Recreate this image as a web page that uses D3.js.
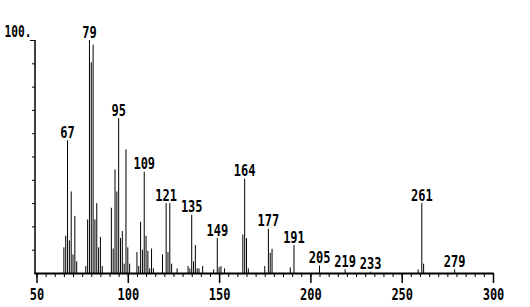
<!DOCTYPE html>
<html><head><meta charset="utf-8">
<script src="https://cdn.jsdelivr.net/npm/d3@7"></script>
<style>
html,body{margin:0;padding:0;background:#fff;}
svg{display:block;}
text{font-family:"DejaVu Sans Mono",monospace;font-weight:bold;fill:#000;}
</style></head>
<body><svg id="c" width="530" height="307"></svg>
<script>
const mz = [65,66,67,68,69,70,71,72,77,78,79,80,81,82,83,84,85,86,91,92,93,94,95,96,97,98,99,100,101,105,106,107,108,109,110,111,112,113,114,119,121,122,123,124,127,133,134,135,136,137,138,139,141,147,149,150,151,153,163,164,165,166,175,177,178,179,189,191,205,219,233,259,261,262,279];
const intensity = [11,16,57,14,35,8,24.5,5,3,23,100,90.5,98,23,30,11,15.5,3,28,10.5,44.5,35,66.5,15,18,4,53,11,4,9,3,22,10,43.5,16,9.5,2,10.5,2,8,30,9,30,4,2,3,2,25,5,12,2,2,3,1.5,15,2.5,3,2,16.5,40.5,15,2,3,19,8.7,10.4,2.4,12,3.2,1.6,0.6,1.5,30,4,1.6];
const labelMz = [67,79,95,109,121,135,149,164,177,191,205,219,233,261,279];
const xTickLabels = [50,100,150,200,250,300];
const yTickValues = [10,20,30,40,50,60,70,80,90,100];

const svg = d3.select("#c");
const x = d3.scaleLinear().domain([50,300]).range([36.5,493]);
const y = d3.scaleLinear().domain([0,100]).range([273,40]);
const peaks = mz.map((m,i)=>({m, v:intensity[i]}));
const valOf = new Map(peaks.map(p=>[p.m,p.v]));

// bars
svg.append("g").selectAll("line").data(peaks).join("line")
  .attr("x1",d=>x(d.m)).attr("x2",d=>x(d.m))
  .attr("y1",y(0)).attr("y2",d=>y(d.v))
  .attr("stroke","#000").attr("stroke-width",1);

// x axis minor ticks
const minor = svg.append("g").attr("transform",`translate(0,${y(0)})`)
  .call(d3.axisBottom(x).tickValues(d3.range(50,301,5)).tickSize(4).tickFormat(""));
minor.select(".domain").remove();
minor.selectAll(".tick line").attr("stroke","#000").attr("stroke-width",1);

// x axis major ticks + labels
const major = svg.append("g").attr("transform",`translate(0,${y(0)})`)
  .call(d3.axisBottom(x).tickValues(xTickLabels).tickSize(10).tickPadding(0).tickFormat(d3.format("d")));
major.select(".domain").remove();
major.selectAll(".tick line").attr("stroke","#000").attr("stroke-width",1.5);
major.selectAll(".tick text").attr("font-size",16).attr("y",0).attr("dy",0)
  .attr("font-family","DejaVu Sans Mono").attr("font-weight","bold")
  .attr("transform","translate(0,27) scale(0.75,1)");

// baseline
svg.append("line").attr("x1",34.5).attr("x2",493.5).attr("y1",y(0)+0.5).attr("y2",y(0)+0.5)
  .attr("stroke","#000").attr("stroke-width",2);

// y axis
const ya = svg.append("g").attr("transform","translate(35,0)")
  .call(d3.axisLeft(y).tickValues(yTickValues).tickSize(3).tickFormat(""));
ya.select(".domain").remove();
ya.selectAll(".tick line").attr("stroke","#000").attr("stroke-width",1)
  .attr("x2",d=>d===100?-5:-3);
svg.append("line").attr("x1",35).attr("x2",35).attr("y1",y(100)).attr("y2",y(0)+1)
  .attr("stroke","#000").attr("stroke-width",1.5);

// top label
svg.append("text").attr("transform","translate(18,37) scale(0.75,1)")
  .attr("text-anchor","middle").attr("font-size",15).text("100.");

// peak labels
svg.append("g").selectAll("text").data(labelMz).join("text")
  .attr("transform",d=>`translate(${x(d)},${y(valOf.get(d))-2.5}) scale(0.75,1)`)
  .attr("text-anchor","middle").attr("font-size",16).text(d=>d);
</script></body></html>
